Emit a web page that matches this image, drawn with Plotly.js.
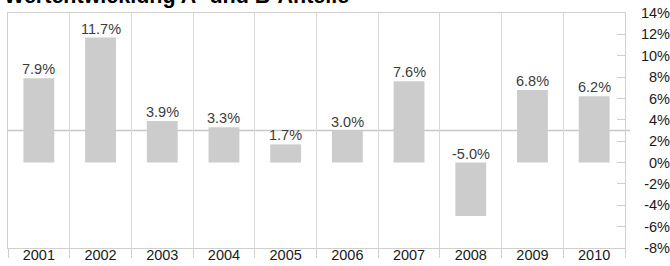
<!DOCTYPE html>
<html>
<head>
<meta charset="utf-8">
<script src="https://cdn.plot.ly/plotly-3.0.1.min.js"></script>
<style>html,body{margin:0;padding:0;background:#fff;}#chart{width:670px;height:266px;}</style>
</head>
<body>
<div id="chart"></div>
<script>
const years = ["2001","2002","2003","2004","2005","2006","2007","2008","2009","2010"];
const returns = [7.9, 11.7, 3.9, 3.3, 1.7, 3.0, 7.6, -5.0, 6.8, 6.2];
const labels = ["7.9%","11.7%","3.9%","3.3%","1.7%","3.0%","7.6%","-5.0%","6.8%","6.2%"];
const yTickVals = [-8, -6, -4, -2, 0, 2, 4, 6, 8, 10, 12, 14];
const yTickText = ["-8%","-6%","-4%","-2%","0%","2%","4%","6%","8%","10%","12%","14%"];
const refLevel = 3.0;
const titleText = "Wertentwicklung A- und B-Anteile";

const FONT = "Liberation Sans, Arial, sans-serif";

const trace = {
  type: "bar",
  x: years,
  y: returns,
  width: 0.5,
  marker: {color: "#cccccc", line: {width: 0}},
  hoverinfo: "skip"
};
// empty helper trace so that the right-hand label axis is created
const axisHelper = {
  type: "scatter", mode: "markers", x: [], y: [],
  xaxis: "x", yaxis: "y2", hoverinfo: "skip", showlegend: false
};

const annotations = years.map((yr, i) => ({
  x: i, y: Math.max(returns[i], 0), xref: "x", yref: "y",
  text: labels[i], showarrow: false, yanchor: "bottom", yshift: -1,
  font: {family: FONT, size: 14.5, color: "#3c3c3c"}
}));
annotations.push({
  xref: "paper", yref: "paper", x: 0, y: 1, xanchor: "left", yanchor: "bottom",
  xshift: -6, yshift: 3,
  text: "<b>" + titleText + "</b>", showarrow: false,
  font: {family: FONT, size: 21.5, color: "#000"}
});

const yRange = [-8, 14];
const layout = {
  width: 670, height: 266,
  margin: {l: 8, r: 0, t: 13, b: 18, pad: 0},
  paper_bgcolor: "#fff", plot_bgcolor: "#fff",
  showlegend: false,
  xaxis: {
    type: "category",
    domain: [0, 617/662],
    range: [-0.5, 9.5],
    tickson: "boundaries",
    showgrid: true, gridcolor: "#d8d8d8", gridwidth: 1,
    ticks: "outside", ticklen: 9, tickcolor: "#cfcfcf",
    ticklabelstandoff: -6,
    showline: true, linecolor: "#cfcfcf", mirror: true,
    tickfont: {family: FONT, size: 14.5, color: "#1a1a1a"},
    fixedrange: true
  },
  yaxis: {
    anchor: "x",
    side: "right",
    range: yRange,
    tickmode: "array", tickvals: yTickVals,
    showticklabels: false,
    showgrid: false, zeroline: false,
    ticks: "inside", ticklen: 8, tickcolor: "#cfcfcf",
    showline: true, linecolor: "#cfcfcf", mirror: true,
    fixedrange: true
  },
  yaxis2: {
    overlaying: "y",
    anchor: "free", position: 1,
    side: "left",
    range: yRange,
    tickmode: "array", tickvals: yTickVals, ticktext: yTickText,
    showgrid: false, zeroline: false, showline: false,
    ticks: "", ticklabelstandoff: 0,
    tickfont: {family: FONT, size: 14.5, color: "#1a1a1a"},
    fixedrange: true
  },
  shapes: [{
    type: "line", xref: "paper", yref: "y", x0: 0, x1: 622/662, y0: refLevel, y1: refLevel,
    line: {color: "#c8c8c8", width: 1.5}, layer: "below"
  }],
  annotations: annotations
};

Plotly.newPlot("chart", [trace, axisHelper], layout, {staticPlot: true, displayModeBar: false});
</script>
</body>
</html>
